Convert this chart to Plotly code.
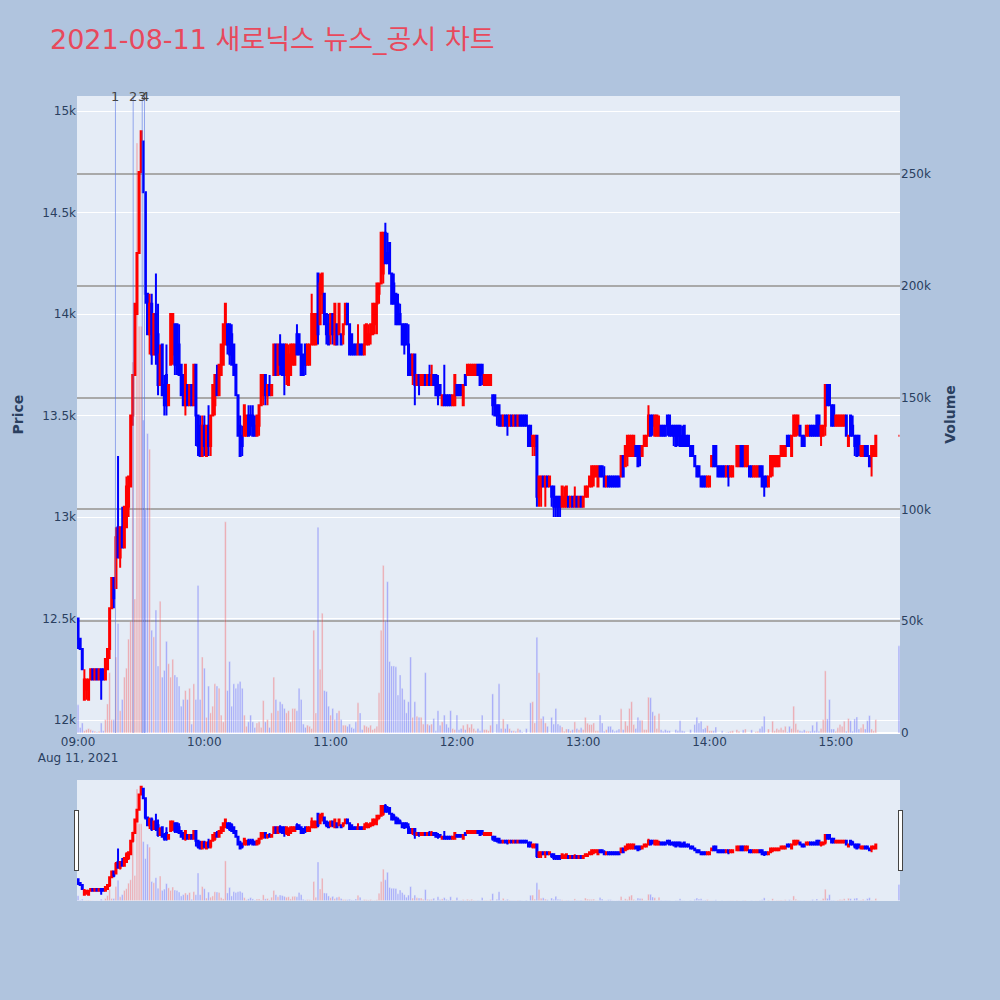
import pandas as pd
import plotly.graph_objects as go

# 1분봉 (09:00 ~ 15:19) + 15:30 종가 단일가
times = list(pd.date_range("2021-08-11 09:00", periods=380, freq="min")) + [pd.Timestamp("2021-08-11 15:30")]

open_p = [
    12500, 12400, 12350, 12100, 12150, 12100, 12200, 12250, 12200, 12250,
    12200, 12250, 12250, 12200, 12250, 12350, 12550, 12700, 12650, 12950,
    12800, 12950, 12850, 12950, 13050, 13150, 13500, 13700, 14000, 14300,
    14700, 14850, 14600, 14100, 13900, 14050, 13800, 14000, 13900, 13650,
    13850, 13650, 13700, 13550, 13750, 13800, 13950, 13950, 13850, 13750,
    13700, 13550, 13650, 13550, 13650, 13550, 13750, 13500, 13450, 13300,
    13450, 13300, 13450, 13350, 13500, 13550, 13700, 13600, 13700, 13750,
    13850, 13950, 13950, 13900, 13850, 13750, 13600, 13450, 13400, 13400,
    13400, 13500, 13500, 13500, 13450, 13400, 13450, 13550, 13600, 13700,
    13600, 13650, 13600, 13700, 13850, 13700, 13850, 13850, 13850, 13700,
    13650, 13700, 13750, 13750, 13900, 13900, 13850, 13800, 13850, 13750,
    13750, 13850, 13850, 13850, 14200, 13950, 14100, 14100, 14000, 13950,
    13900, 14000, 13850, 13950, 13900, 13900, 13900, 13950, 14050, 13950,
    13900, 13850, 13850, 13800, 13850, 13850, 13800, 13850, 13850, 13900,
    13900, 13950, 14050, 14100, 14150, 14200, 14400, 14300, 14350, 14200,
    14150, 14100, 14050, 14000, 13950, 13950, 13950, 13850, 13800, 13700,
    13800, 13650, 13700, 13650, 13650, 13700, 13650, 13700, 13650, 13700,
    13700, 13650, 13650, 13550, 13600, 13600, 13600, 13600, 13550, 13550,
    13650, 13650, 13650, 13550, 13700, 13700, 13700, 13700, 13700, 13700,
    13750, 13750, 13750, 13650, 13650, 13650, 13650, 13600, 13600, 13550,
    13550, 13500, 13450, 13500, 13500, 13450, 13500, 13450, 13500, 13450,
    13500, 13500, 13500, 13500, 13450, 13450, 13350, 13350, 13400, 13100,
    13150, 13200, 13150, 13200, 13150, 13150, 13150, 13100, 13100, 13100,
    13050, 13050, 13050, 13100, 13050, 13100, 13050, 13100, 13050, 13100,
    13050, 13100, 13100, 13150, 13150, 13200, 13200, 13150, 13250, 13250,
    13200, 13150, 13200, 13200, 13200, 13200, 13200, 13200, 13200, 13300,
    13250, 13300, 13300, 13300, 13300, 13350, 13350, 13350, 13300, 13350,
    13350, 13400, 13500, 13500, 13400, 13400, 13400, 13450, 13450, 13450,
    13500, 13500, 13450, 13450, 13450, 13450, 13450, 13400, 13450, 13400,
    13400, 13350, 13350, 13300, 13250, 13250, 13200, 13200, 13200, 13150,
    13150, 13250, 13350, 13350, 13250, 13250, 13250, 13250, 13200, 13250,
    13200, 13200, None, 13250, 13250, 13350, 13350, 13250, 13250, 13250,
    13250, 13200, 13200, 13200, 13250, 13250, 13200, 13200, 13150, 13200,
    13250, 13250, 13250, 13250, 13300, 13300, 13300, 13400, 13400, 13300,
    13400, 13400, 13450, 13450, 13400, 13400, 13400, 13400, 13450, 13450,
    13450, 13500, 13500, 13400, 13400, 13450, 13650, 13650, 13550, 13550,
    13450, 13450, 13450, 13450, 13450, 13500, 13350, 13500, 13450, 13400,
    13400, 13400, 13300, 13300, 13350, 13350, 13300, 13300, 13300, 13300,
    13400,
]
high_p = [
    12500, 12400, 12350, 12250, 12200, 12200, 12250, 12250, 12250, 12250,
    12250, 12250, 12250, 12300, 12350, 12550, 12700, 12700, 12950, 13300,
    12950, 13050, 13050, 13200, 13200, 13500, 13700, 14050, 14300, 14700,
    14900, 14850, 14600, 14100, 14100, 14100, 14000, 14200, 14050, 13850,
    13850, 13700, 13850, 13650, 14000, 14000, 13950, 13950, 13950, 13750,
    13700, 13750, 13650, 13650, 13650, 13750, 13750, 13500, 13500, 13500,
    13500, 13450, 13550, 13500, 13650, 13700, 13750, 13750, 13850, 13950,
    14050, 13950, 13950, 13950, 13850, 13750, 13600, 13500, 13450, 13550,
    13500, 13550, 13550, 13550, 13500, 13500, 13550, 13700, 13700, 13700,
    13650, 13700, 13650, 13850, 13850, 13850, 13900, 13850, 13850, 13850,
    13850, 13850, 13850, 13850, 13950, 13900, 13850, 13800, 13850, 13850,
    13850, 14100, 14000, 14000, 14200, 14200, 14200, 14100, 14000, 14000,
    14000, 14000, 14050, 13950, 14050, 13900, 13950, 14050, 14050, 13950,
    13900, 13850, 13850, 13950, 13850, 13850, 13950, 13950, 13950, 13950,
    14050, 14050, 14150, 14150, 14400, 14400, 14450, 14400, 14350, 14200,
    14200, 14100, 14100, 14050, 13950, 13950, 13950, 13950, 13800, 13800,
    13800, 13700, 13700, 13700, 13700, 13700, 13700, 13750, 13750, 13700,
    13700, 13700, 13650, 13600, 13750, 13600, 13600, 13600, 13600, 13700,
    13650, 13650, 13650, 13650, 13700, 13750, 13750, 13750, 13750, 13750,
    13750, 13750, 13750, 13700, 13700, 13700, 13700, 13600, 13600, 13550,
    13550, 13500, 13500, 13500, 13500, 13500, 13500, 13500, 13500, 13500,
    13500, 13500, 13500, 13500, 13450, 13450, 13400, 13400, 13400, 13200,
    13200, 13200, 13200, 13200, 13200, 13150, 13150, 13100, 13100, 13100,
    13150, 13150, 13150, 13100, 13100, 13100, 13150, 13100, 13100, 13100,
    13100, 13150, 13150, 13200, 13250, 13250, 13250, 13250, 13250, 13250,
    13250, 13200, 13200, 13200, 13200, 13200, 13200, 13200, 13300, 13300,
    13350, 13400, 13400, 13400, 13400, 13350, 13350, 13350, 13350, 13400,
    13400, 13550, 13500, 13500, 13500, 13500, 13500, 13450, 13450, 13450,
    13500, 13500, 13450, 13450, 13450, 13450, 13450, 13450, 13450, 13400,
    13400, 13350, 13350, 13300, 13250, 13250, 13200, 13200, 13200, 13200,
    13200, 13300, 13350, 13350, 13250, 13250, 13250, 13250, 13250, 13250,
    13250, 13250, None, 13350, 13350, 13350, 13350, 13350, 13350, 13250,
    13250, 13250, 13250, 13250, 13250, 13250, 13200, 13200, 13200, 13300,
    13300, 13300, 13300, 13300, 13350, 13350, 13350, 13400, 13400, 13400,
    13500, 13500, 13500, 13450, 13400, 13400, 13450, 13450, 13450, 13450,
    13450, 13500, 13500, 13450, 13450, 13650, 13650, 13650, 13550, 13550,
    13500, 13500, 13500, 13500, 13500, 13500, 13400, 13500, 13500, 13400,
    13400, 13400, 13350, 13350, 13350, 13350, 13300, 13350, 13350, 13400,
    13400,
]
low_p = [
    12350, 12350, 12250, 12100, 12100, 12100, 12200, 12200, 12200, 12200,
    12200, 12100, 12200, 12200, 12250, 12300, 12550, 12550, 12650, 12800,
    12750, 12850, 12850, 12950, 13000, 13150, 13450, 13700, 14000, 14300,
    14700, 14600, 14050, 13900, 13800, 13750, 13800, 13750, 13600, 13650,
    13600, 13500, 13500, 13550, 13750, 13750, 13700, 13700, 13700, 13600,
    13550, 13500, 13550, 13550, 13550, 13550, 13350, 13300, 13300, 13300,
    13300, 13300, 13300, 13300, 13500, 13500, 13600, 13600, 13700, 13750,
    13850, 13800, 13750, 13750, 13700, 13600, 13400, 13300, 13300, 13400,
    13400, 13400, 13400, 13400, 13400, 13400, 13400, 13550, 13550, 13550,
    13550, 13600, 13600, 13700, 13700, 13700, 13700, 13700, 13600, 13650,
    13650, 13700, 13750, 13750, 13800, 13800, 13700, 13700, 13700, 13750,
    13750, 13850, 13850, 13850, 13850, 13950, 14000, 13950, 13850, 13850,
    13850, 13850, 13850, 13850, 13900, 13850, 13850, 13950, 13950, 13800,
    13800, 13800, 13800, 13800, 13800, 13800, 13800, 13850, 13850, 13850,
    13900, 13900, 13900, 14050, 14150, 14150, 14250, 14250, 14200, 14050,
    14050, 13950, 13950, 13950, 13850, 13800, 13850, 13700, 13700, 13650,
    13550, 13650, 13600, 13650, 13650, 13650, 13650, 13650, 13650, 13650,
    13600, 13550, 13600, 13550, 13550, 13550, 13550, 13550, 13550, 13550,
    13600, 13600, 13600, 13550, 13650, 13700, 13700, 13700, 13700, 13700,
    13700, 13650, 13650, 13650, 13650, 13650, 13650, 13500, 13500, 13450,
    13450, 13450, 13450, 13450, 13400, 13450, 13450, 13450, 13450, 13450,
    13450, 13450, 13450, 13450, 13350, 13350, 13300, 13300, 13050, 13050,
    13050, 13150, 13050, 13150, 13150, 13050, 13000, 13000, 13000, 13000,
    13050, 13050, 13050, 13050, 13050, 13050, 13050, 13050, 13050, 13050,
    13050, 13100, 13100, 13150, 13150, 13150, 13200, 13150, 13200, 13200,
    13150, 13150, 13150, 13150, 13150, 13150, 13150, 13150, 13200, 13200,
    13250, 13250, 13300, 13300, 13300, 13300, 13250, 13250, 13300, 13350,
    13350, 13400, 13400, 13400, 13400, 13400, 13400, 13400, 13400, 13400,
    13400, 13400, 13400, 13350, 13350, 13350, 13350, 13350, 13350, 13350,
    13350, 13300, 13300, 13250, 13200, 13200, 13150, 13150, 13150, 13150,
    13150, 13250, 13250, 13250, 13200, 13200, 13200, 13200, 13200, 13150,
    13200, 13200, None, 13250, 13250, 13250, 13250, 13250, 13250, 13200,
    13200, 13200, 13200, 13200, 13200, 13150, 13100, 13150, 13150, 13200,
    13200, 13250, 13250, 13250, 13300, 13300, 13300, 13350, 13350, 13300,
    13400, 13400, 13400, 13400, 13350, 13350, 13400, 13400, 13400, 13400,
    13400, 13400, 13400, 13350, 13400, 13400, 13550, 13550, 13450, 13450,
    13450, 13450, 13450, 13450, 13450, 13400, 13350, 13400, 13400, 13300,
    13300, 13300, 13300, 13300, 13300, 13300, 13250, 13200, 13300, 13300,
    13400,
]
close_p = [
    12400, 12350, 12250, 12200, 12200, 12200, 12250, 12200, 12250, 12200,
    12250, 12200, 12200, 12300, 12350, 12550, 12700, 12600, 12900, 12800,
    12950, 12850, 13050, 13150, 13200, 13500, 13700, 14050, 14300, 14700,
    14900, 14600, 14100, 13900, 14050, 13800, 14000, 13800, 13650, 13800,
    13600, 13550, 13550, 13650, 14000, 14000, 13750, 13750, 13700, 13600,
    13550, 13750, 13550, 13650, 13550, 13750, 13500, 13350, 13300, 13450,
    13350, 13450, 13350, 13500, 13650, 13700, 13600, 13750, 13850, 13950,
    14050, 13850, 13800, 13750, 13700, 13600, 13400, 13300, 13350, 13550,
    13500, 13400, 13450, 13400, 13400, 13500, 13550, 13700, 13700, 13600,
    13650, 13600, 13650, 13850, 13700, 13850, 13750, 13700, 13700, 13850,
    13800, 13850, 13850, 13850, 13800, 13800, 13700, 13700, 13750, 13850,
    13850, 14000, 14000, 14000, 13900, 14150, 14200, 13950, 13900, 13850,
    14000, 13900, 14050, 13850, 14050, 13850, 13950, 14050, 13950, 13800,
    13800, 13800, 13800, 13850, 13800, 13800, 13850, 13950, 13900, 13950,
    14050, 14050, 14150, 14150, 14400, 14400, 14250, 14250, 14200, 14050,
    14050, 13950, 13950, 13950, 13850, 13850, 13850, 13700, 13700, 13800,
    13650, 13700, 13650, 13700, 13700, 13650, 13700, 13650, 13700, 13650,
    13600, 13600, 13600, 13600, 13550, 13550, 13550, 13550, 13600, 13700,
    13600, 13600, 13600, 13650, 13650, 13750, 13750, 13750, 13750, 13750,
    13700, 13650, 13700, 13700, 13700, 13700, 13700, 13550, 13500, 13500,
    13450, 13450, 13500, 13450, 13450, 13500, 13450, 13500, 13450, 13500,
    13450, 13450, 13450, 13450, 13350, 13350, 13400, 13400, 13100, 13200,
    13200, 13150, 13200, 13150, 13200, 13100, 13050, 13050, 13050, 13050,
    13150, 13100, 13150, 13050, 13100, 13050, 13100, 13050, 13100, 13050,
    13100, 13150, 13150, 13200, 13250, 13250, 13250, 13250, 13200, 13200,
    13150, 13200, 13150, 13150, 13150, 13150, 13150, 13150, 13300, 13200,
    13350, 13400, 13400, 13400, 13400, 13300, 13250, 13300, 13350, 13400,
    13400, 13500, 13400, 13450, 13500, 13500, 13450, 13400, 13400, 13400,
    13450, 13400, 13400, 13400, 13350, 13400, 13350, 13350, 13350, 13350,
    13350, 13300, 13300, 13250, 13200, 13200, 13150, 13150, 13150, 13200,
    13200, 13300, 13250, 13250, 13200, 13200, 13200, 13200, 13250, 13200,
    13250, 13250, None, 13350, 13350, 13250, 13250, 13350, 13350, 13200,
    13200, 13250, 13250, 13250, 13200, 13150, 13150, 13150, 13200, 13300,
    13300, 13300, 13300, 13300, 13350, 13350, 13350, 13350, 13350, 13400,
    13500, 13500, 13500, 13400, 13350, 13350, 13450, 13450, 13400, 13400,
    13400, 13400, 13400, 13450, 13450, 13650, 13550, 13550, 13450, 13450,
    13500, 13500, 13500, 13500, 13500, 13400, 13400, 13400, 13400, 13350,
    13300, 13350, 13350, 13350, 13300, 13300, 13250, 13350, 13350, 13400,
    13400,
]
volume = [
    12600, 2500, 4500, 1000, 1500, 2000, 1500, 1000, 800, 500,
    800, 4500, 1000, 6000, 13000, 27000, 6000, 6000, 34000, 49000,
    10000, 15000, 25000, 29000, 42000, 50000, 166000, 60000, 264000, 182000,
    182000, 140000, 100000, 134000, 127000, 46000, 43000, 55000, 30000, 59000,
    25000, 28000, 41000, 31000, 25000, 33000, 26000, 25000, 21000, 12000,
    15000, 19000, 15000, 20000, 4000, 22000, 15000, 66000, 15000, 34000,
    29000, 7000, 21000, 9000, 12000, 22000, 21000, 20000, 8000, 5000,
    94500, 19000, 32000, 12000, 22000, 20000, 22000, 23000, 20000, 8000,
    3000, 5000, 8000, 5000, 2500, 4500, 5000, 2500, 14500, 5000,
    6000, 2500, 9000, 25000, 15000, 10000, 14000, 13000, 11000, 9000,
    10000, 5000, 11000, 11000, 10000, 20000, 15000, 4000, 2500, 3500,
    3000, 2000, 46000, 9000, 92000, 28500, 53600, 19000, 18600, 12000,
    8000, 11000, 6000, 9000, 10000, 6000, 3500, 3500, 3000, 4000,
    2500, 2000, 5000, 13500, 9000, 1500, 3500, 3000, 2500, 3500,
    1500, 2000, 3000, 18000, 46000, 75000, 50000, 67700, 32000, 30000,
    30000, 29600, 17000, 26000, 20000, 15000, 9000, 14000, 34000, 7000,
    14000, 7500, 7000, 7000, 4000, 27000, 4000, 3500, 4000, 6500,
    1000, 10000, 3500, 5000, 8000, 4000, 2500, 10000, 2000, 1500,
    8000, 1500, 2000, 3500, 1500, 4000, 2500, 4000, 2000, 1000,
    2000, 1000, 8000, 1500, 1500, 1000, 3500, 17500, 0, 4000,
    22000, 2000, 6300, 2000, 4000, 2000, 1000, 1000, 800, 2000,
    1500, 500, 0, 2000, 0, 13500, 14000, 4500, 42800, 27000,
    6500, 7500, 4500, 3000, 0, 7000, 4000, 11000, 4000, 3300,
    2700, 800, 1800, 1800, 1000, 1500, 5000, 2000, 1500, 2300,
    1500, 7000, 4400, 3800, 3800, 4500, 1000, 1000, 8000, 4500,
    800, 1500, 3000, 3000, 1500, 800, 1200, 1800, 10800, 1500,
    5300, 3300, 11000, 14000, 3800, 2000, 7000, 5700, 5700, 1500,
    1500, 16000, 15800, 9500, 7800, 2000, 8700, 1500, 800, 1500,
    1000, 1000, 0, 0, 1500, 1000, 5500, 1000, 800, 0,
    0, 1500, 0, 3800, 7000, 4500, 5300, 1800, 2300, 3300,
    1000, 1000, 1000, 2700, 0, 0, 1000, 0, 300, 500,
    800, 1000, 0, 1500, 800, 0, 1400, 1800, 0, 0,
    1400, 0, 600, 800, 2000, 3000, 7500, 0, 1800, 0,
    5300, 1000, 2000, 1500, 2300, 1400, 3000, 500, 3000, 2000,
    12000, 4200, 1500, 1000, 800, 1400, 800, 800, 800, 3500,
    1000, 5000, 800, 2000, 6000, 27800, 6300, 15000, 1800, 1800,
    800, 2300, 3800, 3000, 5300, 800, 6500, 5500, 800, 6300,
    7200, 1800, 2300, 4000, 1800, 5500, 7800, 1800, 1000, 6000,
    39000,
]

# 뉴스/공시 시각
news_times = ["2021-08-11 09:17:46", "2021-08-11 09:26:11",
              "2021-08-11 09:30:29", "2021-08-11 09:31:34"]
news_labels = ["1", "2", "3", "4"]

vol_colors = ["red" if (o is not None and c > o) else "blue"
              for o, c in zip(open_p, close_p)]

fig = go.Figure()
fig.add_trace(go.Bar(x=times, y=volume, marker_color=vol_colors, opacity=0.3,
                     name="Volume", yaxis="y"))
fig.add_trace(go.Candlestick(x=times, open=open_p, high=high_p, low=low_p, close=close_p,
                             increasing=dict(line=dict(color="red"), fillcolor="red"),
                             decreasing=dict(line=dict(color="blue"), fillcolor="blue"),
                             name="Price", yaxis="y2"))

for t, lab in zip(news_times, news_labels):
    fig.add_shape(type="line", x0=t, x1=t, xref="x", y0=0, y1=1, yref="paper",
                  line=dict(color="rgba(90,120,230,0.6)", width=1))
    fig.add_annotation(x=t, y=1, xref="x", yref="paper", text=lab, showarrow=False,
                       yanchor="middle", font=dict(size=13, color="#444"))

fig.update_layout(
    width=1000, height=1000,
    font=dict(family="DejaVu Sans, Noto Sans CJK KR"),
    title=dict(text="2021-08-11 새로닉스 뉴스_공시 차트", x=0.05, y=0.96, yanchor="middle",
               font=dict(size=27, color="#E8495C", family="DejaVu Sans, Noto Sans CJK KR")),
    paper_bgcolor="lightsteelblue",
    showlegend=False,
    margin=dict(l=77, r=100, t=96, b=100),
    xaxis=dict(type="date", rangeslider=dict(visible=True, bgcolor="#E5ECF6")),
    yaxis=dict(title=dict(text="<b>Volume</b>"), side="right", range=[0, 285000],
               gridcolor="darkgray", gridwidth=2),
    yaxis2=dict(title=dict(text="<b>Price</b>"), side="left", overlaying="y",
                range=[11936, 15074], gridcolor="white", gridwidth=1),
)

# 페이지 여백 제거 (그림이 창의 0,0 에서 시작하도록)
fig.write_html("out.html", config={"displayModeBar": False},
               post_script="document.body.style.margin='0';")
